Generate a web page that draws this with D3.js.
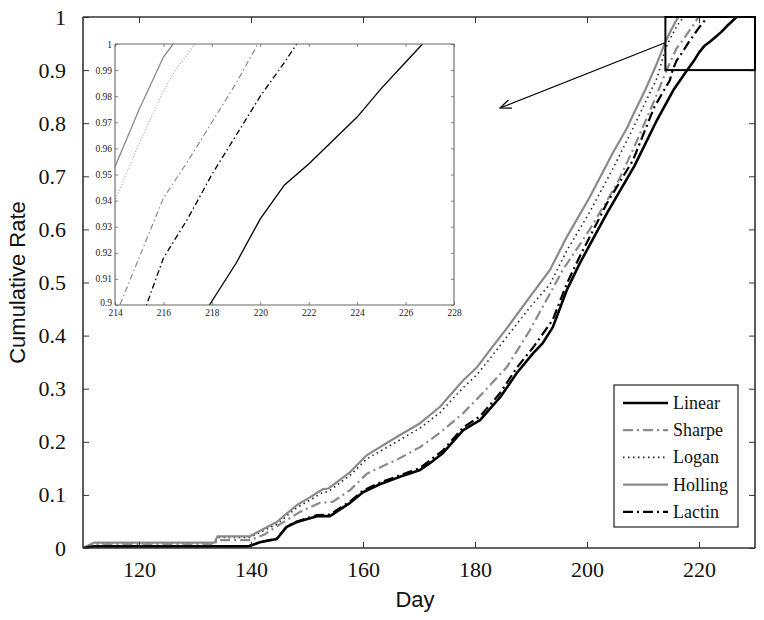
<!DOCTYPE html>
<html>
<head>
<meta charset="utf-8">
<script src="https://cdn.jsdelivr.net/npm/d3@7/dist/d3.min.js"></script>
<style>
  body { margin: 0; background: #fff; }
  svg { display: block; }
  .serif { font-family: "Liberation Serif", "Times New Roman", "DejaVu Serif", serif; }
  .sans { font-family: "Liberation Sans", Arial, "DejaVu Sans", sans-serif; }
</style>
</head>
<body>
<svg id="chart" width="764" height="620"></svg>
<script>
// ---------- DATA ----------
const seriesNames = ["Linear", "Sharpe", "Logan", "Holling", "Lactin"];

const linearDays = [110, 111, 112, 139.5, 141.6, 144.6, 146.4, 148.2, 151.8, 154.1, 157.7, 160, 163, 166.6, 170.2, 172, 174.3, 177.9, 180.9, 184.5, 187.5, 190.4, 192.1, 193.9, 196.4, 198.75, 203.6, 208.5, 212.5, 215.4, 217.9, 219, 220, 221, 222, 223, 224, 225, 226, 226.7];
const linearVals = [0, 0.002, 0.003, 0.003, 0.011, 0.017, 0.04, 0.049, 0.06, 0.06, 0.085, 0.105, 0.12, 0.134, 0.147, 0.16, 0.179, 0.222, 0.241, 0.284, 0.33, 0.367, 0.386, 0.416, 0.486, 0.537, 0.631, 0.72, 0.806, 0.862, 0.9, 0.916, 0.933, 0.946, 0.954, 0.963, 0.972, 0.983, 0.993, 1.0];

const sharpeDays = [110, 112, 133.5, 134, 140, 142.5, 145.2, 148.75, 152.3, 154.6, 157.7, 160.7, 166, 170.2, 173.75, 177.9, 181.4, 185.7, 189.8, 195.7, 200.5, 205.4, 208, 210.7, 212.5, 214.2, 216, 217, 218, 219, 219.9];
const sharpeVals = [0, 0.007, 0.007, 0.015, 0.015, 0.026, 0.045, 0.068, 0.085, 0.087, 0.109, 0.14, 0.166, 0.19, 0.217, 0.254, 0.292, 0.341, 0.41, 0.524, 0.6, 0.687, 0.745, 0.81, 0.855, 0.9, 0.941, 0.955, 0.97, 0.985, 1.0];

const loganDays = [110, 112, 133.5, 134, 139.8, 144.6, 148.2, 152.9, 153.8, 157.7, 160.7, 166, 170.2, 173.75, 177.9, 180.4, 182.7, 185.7, 189.8, 193.4, 196.4, 200.5, 204.6, 208.2, 212.5, 214, 215, 216, 216.5, 217.3];
const loganVals = [0, 0.01, 0.01, 0.02, 0.02, 0.045, 0.076, 0.105, 0.106, 0.137, 0.168, 0.2, 0.226, 0.255, 0.302, 0.327, 0.357, 0.398, 0.453, 0.497, 0.56, 0.633, 0.714, 0.79, 0.885, 0.94, 0.962, 0.982, 0.99, 1.0];

const hollingDays = [110, 112, 133.5, 134, 139.8, 144.6, 148.2, 150, 152.9, 153.8, 157.7, 160.7, 166, 170.2, 173.75, 177.9, 180.4, 182.7, 185.7, 189.8, 193.4, 196.4, 200.5, 204.6, 207.1, 208.2, 210.5, 212.5, 214, 215, 216, 216.4];
const hollingVals = [0, 0.01, 0.01, 0.022, 0.022, 0.049, 0.081, 0.092, 0.111, 0.112, 0.143, 0.175, 0.209, 0.235, 0.266, 0.316, 0.341, 0.373, 0.414, 0.473, 0.524, 0.586, 0.661, 0.744, 0.79, 0.815, 0.865, 0.913, 0.953, 0.975, 0.995, 1.0];

const lactinDays = [110, 111, 112, 139.5, 141.6, 144.6, 146.4, 148.2, 151.8, 154.1, 157.7, 160, 163, 166.6, 170.2, 174.3, 177.9, 180.9, 184.5, 187.5, 190.4, 193.9, 196.4, 198.75, 203.6, 208.2, 212, 214.8, 215.3, 216, 217, 218, 219, 220, 221, 221.5];
const lactinVals = [0, 0.002, 0.003, 0.003, 0.011, 0.018, 0.041, 0.05, 0.062, 0.063, 0.088, 0.108, 0.123, 0.137, 0.151, 0.184, 0.227, 0.248, 0.292, 0.34, 0.378, 0.43, 0.498, 0.55, 0.65, 0.73, 0.83, 0.881, 0.9, 0.918, 0.933, 0.95, 0.965, 0.98, 0.993, 1.0];

const xTicks = [120, 140, 160, 180, 200, 220];
const yTicks = [0, 0.1, 0.2, 0.3, 0.4, 0.5, 0.6, 0.7, 0.8, 0.9, 1];
const insetXTicks = [214, 216, 218, 220, 222, 224, 226, 228];
const insetYTicks = [0.9, 0.91, 0.92, 0.93, 0.94, 0.95, 0.96, 0.97, 0.98, 0.99, 1];

const xLabel = "Day";
const yLabel = "Cumulative Rate";

// ---------- STYLES ----------
const styles = {
  Linear:  { color: "#000", width: 2.6, dash: null,           iw: 1.3, idash: null },
  Sharpe:  { color: "#8a8a8a", width: 2.2, dash: "10,4,2,4", iw: 1.2, idash: "6,3,1.5,3" },
  Logan:   { color: "#222", width: 1.6, dash: "1.5,3.5",      iw: 1.2, idash: "1,2", icolor: "#aaa" },
  Holling: { color: "#8a8a8a", width: 2.2, dash: null,        iw: 1.3, idash: null },
  Lactin:  { color: "#000", width: 2.2, dash: "10,4,2,4",     iw: 1.3, idash: "6,3,1.5,3" }
};

const dataSets = {
  Linear: linearDays.map((d, i) => ({ d, v: linearVals[i] })),
  Sharpe: sharpeDays.map((d, i) => ({ d, v: sharpeVals[i] })),
  Logan: loganDays.map((d, i) => ({ d, v: loganVals[i] })),
  Holling: hollingDays.map((d, i) => ({ d, v: hollingVals[i] })),
  Lactin: lactinDays.map((d, i) => ({ d, v: lactinVals[i] }))
};

const svg = d3.select("#chart");

// ---------- MAIN PLOT ----------
const M = { left: 83, right: 755, top: 17, bottom: 548 };
const x = d3.scaleLinear().domain([110, 230]).range([M.left, M.right]);
const y = d3.scaleLinear().domain([0, 1]).range([M.bottom, M.top]);

svg.append("clipPath").attr("id", "mainClip")
  .append("rect").attr("x", M.left).attr("y", M.top - 2)
  .attr("width", M.right - M.left).attr("height", M.bottom - M.top + 2);

const line = d3.line().x(p => x(p.d)).y(p => y(p.v));
const gLines = svg.append("g").attr("clip-path", "url(#mainClip)");
seriesNames.forEach(name => {
  const s = styles[name];
  gLines.append("path")
    .datum(dataSets[name])
    .attr("d", line)
    .attr("fill", "none")
    .attr("stroke", s.color)
    .attr("stroke-width", s.width)
    .attr("stroke-dasharray", s.dash)
    .attr("stroke-linejoin", "round");
});

// axes (MATLAB style, ticks inward)
const axisColor = "#333";
const fmtY = v => (v === 0 ? "0" : v === 1 ? "1" : v.toFixed(1));
const gx = svg.append("g").attr("transform", `translate(0,${M.bottom})`)
  .call(d3.axisBottom(x).tickValues(xTicks).tickSize(-6).tickPadding(13).tickFormat(d3.format("d")));
const gy = svg.append("g").attr("transform", `translate(${M.left},0)`)
  .call(d3.axisLeft(y).tickValues(yTicks).tickSize(-6).tickPadding(17).tickFormat(fmtY));
const gxt = svg.append("g").attr("transform", `translate(0,${M.top})`)
  .call(d3.axisTop(x).tickValues(xTicks).tickSize(-6).tickFormat(""));
const gyr = svg.append("g").attr("transform", `translate(${M.right},0)`)
  .call(d3.axisRight(y).tickValues(yTicks).tickSize(-6).tickFormat(""));
[gx, gy, gxt, gyr].forEach(g => {
  g.attr("font-family", null);
  g.select(".domain").attr("stroke", axisColor).attr("stroke-width", 1.6);
  g.selectAll(".tick line").attr("stroke", axisColor).attr("stroke-width", 1);
  g.selectAll(".tick text").attr("fill", "#111").attr("class", "serif").attr("font-size", 22);
});
gx.selectAll(".domain").attr("d", `M${M.left},0H${M.right}`);
gxt.selectAll(".domain").attr("d", `M${M.left},0H${M.right}`);
gy.selectAll(".domain").attr("d", `M0,${M.bottom}V${M.top}`);
gyr.selectAll(".domain").attr("d", `M0,${M.bottom}V${M.top}`);

// axis titles
svg.append("text").attr("x", (M.left + M.right) / 2 - 4).attr("y", 607)
  .attr("text-anchor", "middle").attr("class", "sans")
  .attr("font-size", 22).attr("fill", "#111").text(xLabel);
svg.append("text").attr("transform", `translate(25,${(M.top + M.bottom) / 2}) rotate(-90)`)
  .attr("text-anchor", "middle").attr("class", "sans")
  .attr("font-size", 22).attr("fill", "#111").text(yLabel);

// zoom rectangle
svg.append("rect")
  .attr("x", x(214)).attr("y", y(1))
  .attr("width", x(230) - x(214)).attr("height", y(0.9) - y(1))
  .attr("fill", "none").attr("stroke", "#000").attr("stroke-width", 2);

// arrow
svg.append("defs").append("marker")
  .attr("id", "arrowHead").attr("viewBox", "0 0 12 10").attr("refX", 11).attr("refY", 5)
  .attr("markerWidth", 12).attr("markerHeight", 10).attr("markerUnits", "userSpaceOnUse")
  .attr("orient", "auto")
  .append("path").attr("d", "M0,0.5 L11,5 L0,9.5").attr("fill", "none").attr("stroke", "#000").attr("stroke-width", 1.2);
svg.append("line")
  .attr("x1", x(214) - 1).attr("y1", 43).attr("x2", 500).attr("y2", 108)
  .attr("stroke", "#000").attr("stroke-width", 1.2).attr("marker-end", "url(#arrowHead)");

// ---------- LEGEND ----------
const L = { x: 614, y: 385, w: 124, h: 142 };
svg.append("rect").attr("x", L.x).attr("y", L.y).attr("width", L.w).attr("height", L.h)
  .attr("fill", "#fff").attr("stroke", "#222").attr("stroke-width", 1.2);
seriesNames.forEach((name, i) => {
  const s = styles[name];
  const yy = L.y + 18 + i * 27.2;
  svg.append("line").attr("x1", L.x + 9).attr("x2", L.x + 54).attr("y1", yy).attr("y2", yy)
    .attr("stroke", s.color).attr("stroke-width", s.width).attr("stroke-dasharray", s.dash);
  svg.append("text").attr("x", L.x + 59).attr("y", yy + 6)
    .attr("class", "serif").attr("font-size", 18)
    .attr("fill", "#111").text(name);
});

// ---------- INSET ----------
const I = { left: 115, right: 454, top: 44, bottom: 305 };
const xi = d3.scaleLinear().domain([214, 228]).range([I.left, I.right]);
const yi = d3.scaleLinear().domain([0.9, 1]).range([I.bottom, I.top]);

svg.append("rect").attr("x", I.left).attr("y", I.top)
  .attr("width", I.right - I.left).attr("height", I.bottom - I.top).attr("fill", "#fff");
svg.append("clipPath").attr("id", "insetClip")
  .append("rect").attr("x", I.left).attr("y", I.top)
  .attr("width", I.right - I.left).attr("height", I.bottom - I.top);
const lineI = d3.line().x(p => xi(p.d)).y(p => yi(p.v));
const gI = svg.append("g").attr("clip-path", "url(#insetClip)");
seriesNames.forEach(name => {
  const s = styles[name];
  gI.append("path")
    .datum(dataSets[name])
    .attr("d", lineI)
    .attr("fill", "none")
    .attr("stroke", s.icolor || s.color)
    .attr("stroke-width", s.iw)
    .attr("stroke-dasharray", s.idash);
});
const insetColor = "#666";
const fmtI = v => String(+v.toFixed(2));
const gix = svg.append("g").attr("transform", `translate(0,${I.bottom})`)
  .call(d3.axisBottom(xi).tickValues(insetXTicks).tickSize(-3).tickPadding(4).tickFormat(d3.format("d")));
const giy = svg.append("g").attr("transform", `translate(${I.left},0)`)
  .call(d3.axisLeft(yi).tickValues(insetYTicks).tickSize(-3).tickPadding(3).tickFormat(fmtI));
const gixt = svg.append("g").attr("transform", `translate(0,${I.top})`)
  .call(d3.axisTop(xi).tickValues(insetXTicks).tickSize(-3).tickFormat(""));
const giyr = svg.append("g").attr("transform", `translate(${I.right},0)`)
  .call(d3.axisRight(yi).tickValues(insetYTicks).tickSize(-3).tickFormat(""));
[gix, giy, gixt, giyr].forEach(g => {
  g.attr("font-family", null);
  g.select(".domain").attr("stroke", insetColor).attr("stroke-width", 1.1);
  g.selectAll(".tick line").attr("stroke", insetColor).attr("stroke-width", 0.8);
  g.selectAll(".tick text").attr("fill", "#222").attr("class", "serif").attr("font-size", 9.5);
});
giy.selectAll(".tick text").filter(d => d === 0.9).attr("dy", "0.1em");
gix.selectAll(".domain").attr("d", `M${I.left},0H${I.right}`);
gixt.selectAll(".domain").attr("d", `M${I.left},0H${I.right}`);
giy.selectAll(".domain").attr("d", `M0,${I.bottom}V${I.top}`);
giyr.selectAll(".domain").attr("d", `M0,${I.bottom}V${I.top}`);
</script>
</body>
</html>
